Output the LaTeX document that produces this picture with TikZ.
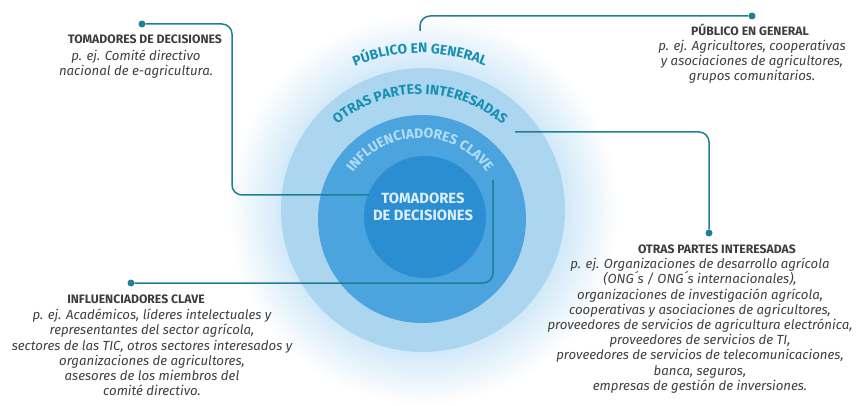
\documentclass[tikz,border=0pt]{standalone}
\usepackage{fontspec}
\setmainfont{Fira Sans}
\usepackage{xcolor}
\usetikzlibrary{positioning, decorations.text}

\definecolor{glowBlue}{HTML}{D3E9F8}
\definecolor{otrasBlue}{HTML}{ACD5F0}
\definecolor{influBlue}{HTML}{4BA4DE}
\definecolor{tomBlue}{HTML}{2B8ED3}
\definecolor{arcTeal}{HTML}{1590B2}
\definecolor{paleText}{HTML}{B3DDF5}
\definecolor{centerText}{HTML}{DCEFFB}
\definecolor{lineTeal}{HTML}{1F7F94}
\definecolor{titleGray}{HTML}{3D3D3D}
\definecolor{bodyGray}{HTML}{3F3F3F}

\newcommand{\titlefont}{\fontsize{12.2}{13}\selectfont\bfseries}
\newcommand{\bodyfont}{\fontsize{13.2}{15.2}\selectfont\itshape}
\newcommand{\arcfont}{\fontsize{13.8}{14}\selectfont\bfseries}
\newcommand{\centerfont}{\fontsize{14.8}{17.5}\selectfont\bfseries}

\begin{document}
\begin{tikzpicture}[
  x=1pt, y=-1pt,
  ring/.style={circle, draw=none, inner sep=0pt},
  conn/.style={draw=lineTeal, line width=1.5pt, rounded corners=10pt},
  dot/.style={circle, fill=lineTeal, inner sep=0pt, minimum size=7pt},
  title/.style={font=\titlefont, text=titleGray, inner sep=0pt, anchor=base},
  body/.style={font=\bodyfont, text=bodyGray, align=center, inner sep=0pt, anchor=north},
  arctext/.style={decorate, decoration={text along path, text align=center, text color=#1}}
]
  \useasboundingbox (0,0) rectangle (857,406);

  % soft glow round the rings
  \coordinate (glowC) at (424,210);
  \foreach \i in {0,...,24}{
    \pgfmathtruncatemacro{\p}{\i*4}
    \fill[glowBlue!\p!white] (glowC) circle ({196-\i*2.1});
  }

  % rings
  \node[ring, fill=otrasBlue, minimum size=284pt] (otras) at (423,210) {};
  \node[ring, fill=influBlue, minimum size=208pt] (influ) at (422,219) {};
  \node[ring, fill=tomBlue, minimum size=122pt] (tomadores) at (425,217) {};
  \node[font=\centerfont, text=centerText, align=center] (tomLabel) at (423,207) {TOMADORES\\DE DECISIONES};

  % ring labels
  \coordinate (arcC) at (420,220);
  \path[arctext=arcTeal, decoration={text={|\arcfont|PÚBLICO EN GENERAL}}]
    (arcC) ++(200:167) arc[start angle=200, end angle=340, radius=167];
  \path[arctext=arcTeal, decoration={text={|\arcfont|OTRAS PARTES INTERESADAS}}]
    (arcC) ++(200:126) arc[start angle=200, end angle=340, radius=126];
  \path[arctext=paleText, decoration={text={|\arcfont|INFLUENCIADORES CLAVE}}]
    (arcC) ++(180:82) arc[start angle=180, end angle=360, radius=82];

  % leaders
  \node[dot] (tdDot) at (142,24) {};
  \coordinate (tdBend) at (232,195);
  \coordinate (tdEnd) at (369,195);
  \draw[conn] (tdDot) -| (tdBend) -- (tdEnd);

  \coordinate (pgEnd) at (420,31);
  \node[dot] (pgDot) at (752,16) {};
  \draw[conn] (pgEnd) |- (pgDot);

  \coordinate (opEnd) at (515,132);
  \node[dot] (opDot) at (709,233) {};
  \draw[conn] (opEnd) -| (opDot);

  \coordinate (icEnd) at (493,180);
  \node[dot] (icDot) at (131,283) {};
  \draw[conn] (icEnd) |- (icDot);

  % texts
  \node[title] (tdTitle) at (145,44) {TOMADORES DE DECISIONES};
  \node[body] (tdBody) at (136,50) {p. ej. Comité directivo\\nacional de e-agricultura.};

  \node[title] (pgTitle) at (750,36) {PÚBLICO EN GENERAL};
  \node[body] (pgBody) at (752,40) {p. ej. Agricultores, cooperativas\\y asociaciones de agricultores,\\grupos comunitarios.};

  \node[title] (icTitle) at (136,303) {INFLUENCIADORES CLAVE};
  \node[body] (icBody) at (152,309) {p. ej. Académicos, líderes intelectuales y\\representantes del sector agrícola,\\sectores de las TIC, otros sectores interesados y\\organizaciones de agricultores,\\asesores de los miembros del\\comité directivo.};

  \node[title] (opTitle) at (717,254) {OTRAS PARTES INTERESADAS};
  \node[body] (opBody) at (700,258) {p. ej. Organizaciones de desarrollo agrícola\\(ONG´s / ONG´s internacionales),\\organizaciones de investigación agrícola,\\cooperativas y asociaciones de agricultores,\\proveedores de servicios de agricultura electrónica,\\proveedores de servicios de TI,\\proveedores de servicios de telecomunicaciones,\\banca, seguros,\\empresas de gestión de inversiones.};
\end{tikzpicture}
\end{document}
